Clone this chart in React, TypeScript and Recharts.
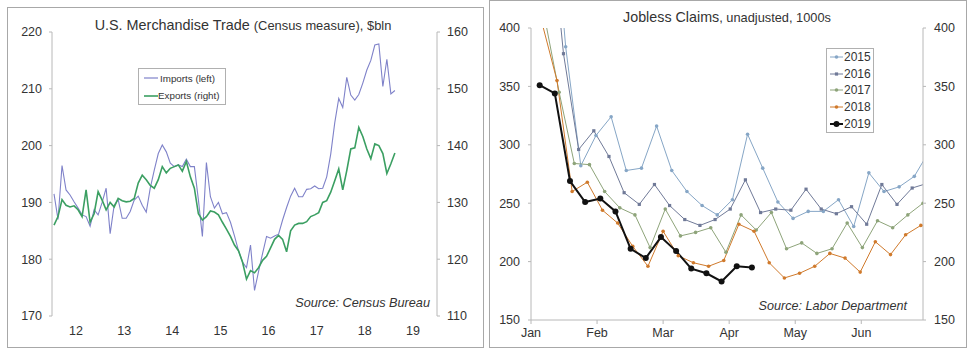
import React from 'react';
import { LineChart, Line, XAxis, YAxis } from 'recharts';

const FONT = '"Liberation Sans", Arial, sans-serif';
const AXIS = '#b8b8b8';
const TXT = '#333';

// U.S. merchandise trade, monthly from Jan 2012, $bln
const tradeYears = ['12', '13', '14', '15', '16', '17', '18', '19'];
const importsBln = [
  191.5, 187, 196.5, 192.2, 191.3, 190.1, 189, 187.8, 187.5, 185.8,
  188.7, 187.8, 190, 192.5, 184.5, 189.5, 190.5, 187.2, 187.2, 188.4,
  190.4, 191.1, 189.5, 188.3, 192.5, 195.7, 198.6, 200.1, 198.9, 196.9,
  196.3, 196.6, 196.3, 197.6, 196.3, 196.3, 190.5, 184, 197, 191,
  189, 190, 188, 188.2, 186.5, 184.1, 181.5, 179.5, 178.5, 182.5,
  174.5, 177.8, 181, 184, 183.7, 184.1, 184.4, 186.9, 189.1, 191.1,
  192.5, 191, 191, 192.3, 192.4, 192.9, 192.4, 192.5, 194.5, 198.5,
  204, 208.3, 206.7, 212, 208.9, 208, 209, 211, 213.3, 215,
  217.7, 217.9, 210.4, 215.2, 209.1, 209.7,
];
const exportsBln = [
  126, 127.5, 130.5, 129.5, 129.2, 129.4, 128.7, 127.5, 132.2, 126.5,
  128, 131.9, 130.4, 128.7, 130, 129.2, 130.7, 130.3, 130.1, 130.2,
  130.7, 133.4, 134.8, 134, 133, 132.5, 134, 136.3, 135.2, 136,
  136.3, 136.6, 135.5, 137.2, 134.5, 132.5, 128, 126.9, 127.5, 128.5,
  128.3, 127.8, 126.5, 125.3, 124, 122.5, 121.5, 119.5, 116.5, 118,
  117.6, 118.5, 119.8, 120.5, 122, 123.5, 124.2, 123.5, 121.3, 125,
  126, 126.3, 126.3, 126.6, 127.5, 127.8, 128.2, 130, 130.3, 131.8,
  133.8, 135.9, 132.2, 135.6, 139.4, 139.6, 143.2, 141.6, 139.4, 137.7,
  140.3, 140, 138.6, 135.1, 136.8, 138.7,
];
const importTicks = [170, 180, 190, 200, 210, 220];
const exportTicks = [110, 120, 130, 140, 150, 160];

// jobless claims, unadjusted, 1000s, weekly
const monthLabels = ['Jan', 'Feb', 'Mar', 'Apr', 'May', 'Jun'];
const monthTicks = [0, 30.5, 61, 91.5, 122, 152.5];
const claimTicks = [150, 200, 250, 300, 350, 400];
const claims2015 = [420, 540, 384, 282, 308, 324, 278, 280, 316, 278, 260, 248, 240, 253, 309, 280, 251, 237, 243, 243, 253, 230, 276, 260, 264, 273, 295];
const claims2016 = [430, 510, 378, 296, 312, 290, 259, 249, 266, 248, 236, 231, 236, 245, 270, 242, 245, 244, 262, 245, 241, 247, 232, 266, 249, 263, 267];
const claims2017 = [412, 345, 284, 283, 260, 246, 240, 212, 245, 222, 225, 229, 208, 240, 227, 242, 211, 216, 207, 211, 233, 212, 235, 229, 240, 250];
const claims2018 = [405, 355, 260, 268, 244, 233, 213, 196, 226, 205, 199, 196, 201, 232, 226, 199, 186, 190, 196, 207, 203, 191, 217, 206, 223, 231];
const claims2019 = [351, 344, 269, 251, 254, 243, 211, 203, 221, 209, 194, 190, 183, 196, 195];
// day of year of the first week-ending date
const firstWeekDay = [2, 1, 6, 5, 4];

const tradeData = importsBln.map((v, i) => ({ m: i + 0.5, imports: v, exports: exportsBln[i] }));
const yearEdges = tradeYears.map((_, i) => i * 12).concat(96);
const yearMids = tradeYears.map((_, i) => i * 12 + 6);

const claimSeries = [
  { name: '2015', values: claims2015, color: '#86a6c6', width: 1, shape: 'circle', size: 1.8 },
  { name: '2016', values: claims2016, color: '#707a98', width: 1, shape: 'square', size: 1.6 },
  { name: '2017', values: claims2017, color: '#8ea47a', width: 1, shape: 'circle', size: 1.8 },
  { name: '2018', values: claims2018, color: '#d07a2c', width: 1, shape: 'circle', size: 1.8 },
  { name: '2019', values: claims2019, color: '#111111', width: 2, shape: 'circle', size: 3 },
].map((s, j) => ({ ...s, data: s.values.map((v, i) => ({ day: firstWeekDay[j] + 7 * i, v })) }));

const makeDot = (color: string, shape: string, size: number) => (p: any) => {
  const { cx, cy, index } = p;
  if (cx == null || cy == null) return <g key={`n${index}`} />;
  if (shape === 'square')
    return <rect key={`d${index}`} x={cx - size} y={cy - size} width={size * 2} height={size * 2} fill={color} />;
  return <circle key={`d${index}`} cx={cx} cy={cy} r={size} fill={color} />;
};

const tickStyle = { fill: TXT, fontSize: 12.5, fontFamily: FONT };

const TradeChart = () => (
  <div style={{ position: 'absolute', left: 0, top: 0 }}>
    <LineChart width={490} height={354} data={tradeData} margin={{ top: 32, right: 0, bottom: 0, left: 0 }}>
      <XAxis xAxisId="m" dataKey="m" type="number" domain={[0, 96]} ticks={yearEdges} tick={false}
        height={0} tickSize={4} axisLine={{ stroke: AXIS }} tickLine={{ stroke: AXIS }} allowDataOverflow />
      <XAxis xAxisId="yr" dataKey="m" type="number" domain={[0, 96]} ticks={yearMids}
        tickFormatter={(v: number) => tradeYears[(v - 6) / 12]} height={38} axisLine={false} tickLine={false}
        tickSize={4} tickMargin={6} tick={tickStyle} interval={0} />
      <YAxis yAxisId="l" domain={[170, 220]} ticks={importTicks} width={52} tickSize={3} tickMargin={7}
        axisLine={{ stroke: AXIS }} tickLine={{ stroke: AXIS }} tick={tickStyle} interval={0} />
      <YAxis yAxisId="r" orientation="right" domain={[110, 160]} ticks={exportTicks} width={53} tickSize={3}
        tickMargin={7} axisLine={{ stroke: AXIS }} tickLine={{ stroke: AXIS }} tick={tickStyle} interval={0} />
      <Line xAxisId="m" yAxisId="l" dataKey="imports" stroke="#7f82c9" strokeWidth={1.1} dot={false} isAnimationActive={false} />
      <Line xAxisId="m" yAxisId="r" dataKey="exports" stroke="#3b9f62" strokeWidth={1.6} dot={false} isAnimationActive={false} />
    </LineChart>
  </div>
);

const ClaimsChart = () => (
  <div style={{ position: 'absolute', left: 488, top: 0 }}>
    <LineChart width={490} height={354} margin={{ top: 28, right: 0, bottom: 0, left: 0 }}>
      <XAxis dataKey="day" type="number" domain={[0, 181]} ticks={monthTicks} interval={0}
        tickFormatter={(v: number) => monthLabels[monthTicks.indexOf(v)]} height={34} tickSize={4} tickMargin={4}
        axisLine={{ stroke: AXIS }} tickLine={{ stroke: AXIS }} tick={tickStyle} allowDataOverflow />
      <YAxis yAxisId="l" domain={[150, 400]} ticks={claimTicks} width={43} tickSize={3} tickMargin={8}
        axisLine={{ stroke: AXIS }} tickLine={{ stroke: AXIS }} tick={tickStyle} interval={0} allowDataOverflow />
      <YAxis yAxisId="r" orientation="right" domain={[150, 400]} ticks={claimTicks} width={55} tickSize={3}
        tickMargin={8} axisLine={{ stroke: AXIS }} tickLine={{ stroke: AXIS }} tick={tickStyle} interval={0} allowDataOverflow />
      {claimSeries.map((s) => (
        <Line key={s.name} yAxisId="l" data={s.data} dataKey="v" name={s.name} stroke={s.color}
          strokeWidth={s.width} dot={makeDot(s.color, s.shape, s.size)} isAnimationActive={false} />
      ))}
    </LineChart>
  </div>
);

const LegendRow = ({ color, label, shape, size, width }: any) => (
  <div style={{ display: 'flex', alignItems: 'center', height: 16.6 }}>
    <svg width={14} height={8} style={{ marginRight: 1 }}>
      <line x1={1} y1={4} x2={14} y2={4} stroke={color} strokeWidth={width} />
      {shape === 'square'
        ? <rect x={7.5 - size} y={4 - size} width={size * 2} height={size * 2} fill={color} />
        : <circle cx={7.5} cy={4} r={size} fill={color} />}
    </svg>
    <span>{label}</span>
  </div>
);

export default function App() {
  return (
    <div style={{ position: 'absolute', left: 0, top: 0, width: 978, height: 354, background: '#fff', fontFamily: FONT, color: TXT, overflow: 'hidden' }}>
      <svg width={978} height={354} style={{ position: 'absolute', left: 0, top: 0 }}>
        <rect x={7.5} y={7.5} width={476} height={340} fill="none" stroke="#a8a8a8" />
        <rect x={489.5} y={0.5} width={477} height={347} fill="none" stroke="#a8a8a8" />
      </svg>
      <TradeChart />
      <ClaimsChart />

      <div style={{ position: 'absolute', left: 0, top: 16, width: 486, textAlign: 'center', fontSize: 14.4, lineHeight: '18px', whiteSpace: 'nowrap' }}>
        U.S. Merchandise Trade <span style={{ fontSize: 12.9 }}>(Census measure), $bln</span>
      </div>
      <div style={{ position: 'absolute', left: 488, top: 8, width: 478, textAlign: 'center', fontSize: 14.3, lineHeight: '18px', whiteSpace: 'nowrap' }}>
        Jobless Claims<span style={{ fontSize: 12.8 }}>, unadjusted, 1000s</span>
      </div>

      <div style={{ position: 'absolute', left: 0, top: 295, width: 430, textAlign: 'right', fontSize: 12.7, fontStyle: 'italic', lineHeight: '16px' }}>
        Source: Census Bureau
      </div>
      <div style={{ position: 'absolute', left: 0, top: 298, width: 907, textAlign: 'right', fontSize: 12.6, fontStyle: 'italic', lineHeight: '16px' }}>
        Source: Labor Department
      </div>

      <div style={{ position: 'absolute', left: 138, top: 68, width: 83, height: 35, border: '1px solid #b0b0b0', background: '#fff', fontSize: 9.8, padding: '0 0 0 3px', boxSizing: 'content-box' }}>
        <div style={{ display: 'flex', alignItems: 'center', height: 18 }}>
          <svg width={18} height={6}><line x1={2} y1={3} x2={16} y2={3} stroke="#7f82c9" strokeWidth={1.2} /></svg>
          <span>Imports (left)</span>
        </div>
        <div style={{ display: 'flex', alignItems: 'center', height: 17 }}>
          <svg width={16} height={6}><line x1={2} y1={3} x2={16} y2={3} stroke="#3b9f62" strokeWidth={1.6} /></svg>
          <span>Exports (right)</span>
        </div>
      </div>

      <div style={{ position: 'absolute', left: 826, top: 48, width: 44, height: 83, border: '1px solid #b0b0b0', background: '#fff', fontSize: 12, padding: '0 0 0 2px', boxSizing: 'content-box' }}>
        {claimSeries.map((s) => (
          <LegendRow key={s.name} color={s.color} label={s.name} shape={s.shape} size={s.size} width={s.width} />
        ))}
      </div>
    </div>
  );
}
